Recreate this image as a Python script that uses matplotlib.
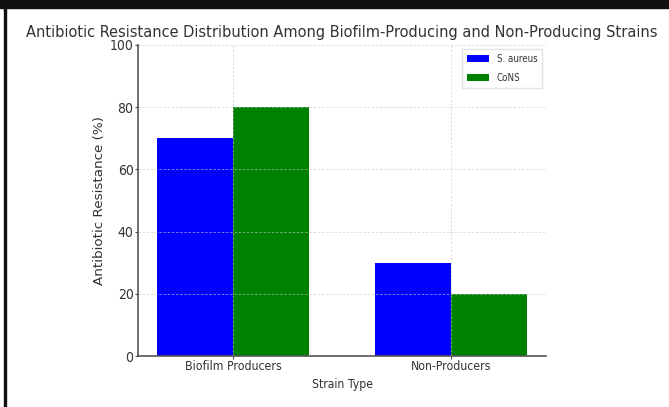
import matplotlib
matplotlib.use("Agg")
import matplotlib.pyplot as plt
import numpy as np
from matplotlib.patches import Rectangle
from matplotlib.font_manager import FontProperties

categories = ["Biofilm Producers", "Non-Producers"]
s_aureus = [70, 30]
cons = [80, 20]
series_labels = ["S. aureus", "CoNS"]

cond = dict(family="DejaVu Sans", stretch="condensed")

fig = plt.figure(figsize=(6.69, 4.07), dpi=100)
ax = fig.add_axes([138/669, 1-356/407, (546-138)/669, (356-45)/407])

x = np.arange(len(categories))
w = 0.35
ax.bar(x - w/2, s_aureus, w, color="#0000ff", label=series_labels[0], zorder=1)
ax.bar(x + w/2, cons, w, color="#008000", label=series_labels[1], zorder=1)

ax.set_ylim(0, 100)
ax.set_xticks(x)
ax.set_xticklabels(categories, fontsize=8.8, color="#333333", **cond)
for lab in ax.get_yticklabels():
    lab.set_fontproperties(FontProperties(**cond, size=10))
    lab.set_color("#333333")
ax.tick_params(axis="both", length=2, pad=1.2, color="#555555")
ax.set_axisbelow(False)
ax.grid(True, linestyle=(0, (3, 2)), color="#c8c8c8", linewidth=0.6, alpha=0.7)
for s in ["top", "right"]:
    ax.spines[s].set_visible(False)
for s in ["left", "bottom"]:
    ax.spines[s].set_color("#555555")
    ax.spines[s].set_linewidth(1.2)
    ax.spines[s].set_zorder(3)

ax.set_xlabel("Strain Type", fontsize=8.7, color="#333333", labelpad=3, **cond)
ax.set_ylabel("Antibiotic Resistance (%)", fontsize=9.7, color="#333333", labelpad=2.5)
fig.text(342/669, 1-32/407, "Antibiotic Resistance Distribution Among Biofilm-Producing and Non-Producing Strains",
         ha="center", va="center", fontsize=11.7, color="#333333", **cond)

leg = ax.legend(loc="upper right", prop=FontProperties(size=7, **cond),
                frameon=True, fancybox=False, edgecolor="#dddddd",
                borderaxespad=0.4, handlelength=2.3, labelspacing=0.95,
                borderpad=0.5, handletextpad=0.75, handleheight=0.75)
leg.set_zorder(5)
for t in leg.get_texts():
    t.set_color("#333333")

fig.patches.append(Rectangle((0, 1-8/407), 1, 8/407, transform=fig.transFigure, color="#111111", zorder=10))
fig.patches.append(Rectangle((4/669, 0), 2.5/669, 1, transform=fig.transFigure, color="#111111", zorder=10))

fig.savefig("out.png", dpi=100)
